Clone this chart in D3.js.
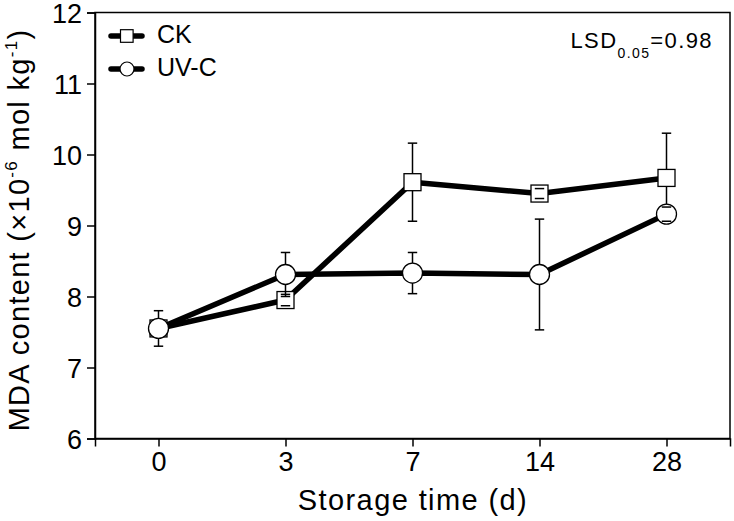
<!DOCTYPE html>
<html>
<head>
<meta charset="utf-8">
<script src="https://cdn.jsdelivr.net/npm/d3@7"></script>
<style>
  body { margin: 0; background: #fff; }
  text { font-family: "Liberation Sans", Arial, sans-serif; fill: #000; }
</style>
</head>
<body>
<svg width="734" height="521"></svg>
<script>
// data
var days = ["0", "3", "7", "14", "28"];
var ckMean = [7.55, 7.95, 9.61, 9.45, 9.67];
var ckErr = [0.10, 0.08, 0.55, 0.07, 0.63];
var uvMean = [7.55, 8.31, 8.33, 8.31, 9.16];
var uvErr = [0.25, 0.31, 0.29, 0.78, 0.10];
var yTicks = [6, 7, 8, 9, 10, 11, 12];

var svg = d3.select("svg"),
    margin = {top: 12.5, right: 4, bottom: 82.5, left: 95},
    width = +svg.attr("width") - margin.left - margin.right,
    height = +svg.attr("height") - margin.top - margin.bottom;

var xScale = d3.scalePoint().domain(days).range([0, width]).padding(0.5);
var yScale = d3.scaleLinear().domain([6, 12]).range([height, 0]);

var g = svg.append("g")
    .attr("transform", "translate(" + margin.left + "," + margin.top + ")");

// frame
g.append("rect")
    .attr("width", width)
    .attr("height", height)
    .attr("fill", "none")
    .attr("stroke", "#000")
    .attr("stroke-width", 1.5);

// axes
var xAxis = g.append("g")
    .attr("transform", "translate(0," + height + ")")
    .call(d3.axisBottom(xScale).tickSize(8).tickPadding(5));
var yAxis = g.append("g")
    .call(d3.axisLeft(yScale).tickValues(yTicks).tickFormat(d3.format("d")).tickSize(8).tickPadding(5));

[xAxis, yAxis].forEach(function (a) {
    a.select(".domain").attr("stroke-width", 1.5);
    a.selectAll(".tick line").attr("stroke-width", 1.5);
    a.selectAll(".tick text")
        .attr("font-size", 27)
        .attr("font-family", "'Liberation Sans', Arial, sans-serif");
});
yAxis.selectAll(".tick text").attr("dy", "0.36em");

// axis titles
svg.append("text")
    .attr("x", margin.left + 318)
    .attr("y", 510)
    .attr("text-anchor", "middle")
    .style("font-size", "29px")
    .style("letter-spacing", "1.4px")
    .text("Storage time (d)");

var yt = svg.append("text")
    .attr("transform", "translate(29,230) rotate(-90)")
    .attr("text-anchor", "middle")
    .style("font-size", "29px")
    .style("letter-spacing", "1.3px");
yt.append("tspan").text("MDA content (\u00d710");
yt.append("tspan").attr("dy", -12).style("font-size", "17px").text("-6");
yt.append("tspan").attr("dy", 12).text(" mol kg");
yt.append("tspan").attr("dy", -12).style("font-size", "17px").text("-1");
yt.append("tspan").attr("dy", 12).text(")");

// series
var series = [
    {name: "CK", mean: ckMean, err: ckErr, shape: "square"},
    {name: "UV-C", mean: uvMean, err: uvErr, shape: "circle"}
];

var line = d3.line()
    .x(function (d, i) { return xScale(days[i]); })
    .y(function (d) { return yScale(d); });

var capW = 4.7;

series.forEach(function (s) {
    g.append("path")
        .attr("d", line(s.mean))
        .attr("fill", "none")
        .attr("stroke", "#000")
        .attr("stroke-width", 5.5)
        .attr("stroke-linejoin", "round");
});

series.forEach(function (s) {
    var pts = s.mean.map(function (m, i) { return {x: xScale(days[i]), m: m, e: s.err[i]}; });

    // whiskers behind the markers
    g.selectAll(".whisk-" + s.shape)
        .data(pts).enter().append("line")
        .attr("x1", function (d) { return d.x; })
        .attr("x2", function (d) { return d.x; })
        .attr("y1", function (d) { return yScale(d.m - d.e); })
        .attr("y2", function (d) { return yScale(d.m + d.e); })
        .attr("stroke", "#000")
        .attr("stroke-width", 1.5);

    // markers
    if (s.shape === "square") {
        g.selectAll(".mk-sq")
            .data(pts).enter().append("rect")
            .attr("x", function (d) { return d.x - 8.5; })
            .attr("y", function (d) { return yScale(d.m) - 8.5; })
            .attr("width", 17)
            .attr("height", 17)
            .attr("fill", "#fff")
            .attr("stroke", "#000")
            .attr("stroke-width", 1.3);
    } else {
        g.selectAll(".mk-ci")
            .data(pts).enter().append("circle")
            .attr("cx", function (d) { return d.x; })
            .attr("cy", function (d) { return yScale(d.m); })
            .attr("r", 10)
            .attr("fill", "#fff")
            .attr("stroke", "#000")
            .attr("stroke-width", 1.3);
    }

    // caps on top
    [-1, 1].forEach(function (sgn) {
        g.selectAll(".cap")
            .data(pts).enter().append("line")
            .attr("x1", function (d) { return d.x - capW; })
            .attr("x2", function (d) { return d.x + capW; })
            .attr("y1", function (d) { return yScale(d.m + sgn * d.e); })
            .attr("y2", function (d) { return yScale(d.m + sgn * d.e); })
            .attr("stroke", "#000")
            .attr("stroke-width", 1.5);
    });
});

// legend
var legend = svg.append("g").attr("transform", "translate(110,36)");
series.forEach(function (s, i) {
    var row = legend.append("g").attr("transform", "translate(0," + i * 33 + ")");
    row.append("line")
        .attr("x1", 1).attr("x2", 32)
        .attr("stroke", "#000")
        .attr("stroke-width", 5.5)
        .attr("stroke-linecap", "round");
    if (s.shape === "square") {
        row.append("rect")
            .attr("x", 10.5).attr("y", -6.3)
            .attr("width", 12.6).attr("height", 12.6)
            .attr("fill", "#fff").attr("stroke", "#000").attr("stroke-width", 1.2);
    } else {
        row.append("circle")
            .attr("cx", 17).attr("r", 7)
            .attr("fill", "#fff").attr("stroke", "#000").attr("stroke-width", 1.2);
    }
    row.append("text")
        .attr("x", 47).attr("y", 7)
        .style("font-size", "25px")
        .text(s.name);
});

// LSD note
var lsd = svg.append("text")
    .attr("x", 713).attr("y", 48)
    .attr("text-anchor", "end")
    .style("font-size", "22px")
    .style("letter-spacing", "1.4px");
lsd.append("tspan").text("LSD");
lsd.append("tspan").attr("dy", 10).style("font-size", "14px").text("0.05");
lsd.append("tspan").attr("dy", -10).text("=0.98");
</script>
</body>
</html>
